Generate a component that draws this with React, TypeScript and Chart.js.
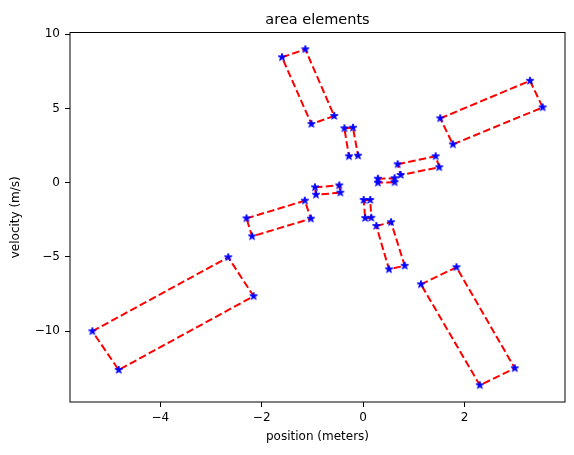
import React, { useEffect, useRef } from 'react';
import { Chart, registerables } from 'chart.js';

Chart.register(...registerables);

// Corner coordinates of each rotated rectangle (position, velocity)
const rectX: number[][] = [
  [-1.60, -1.14, -0.57, -1.02],
  [-0.37, -0.20, -0.10, -0.28],
  [1.52, 3.29, 3.54, 1.77],
  [0.68, 1.43, 1.50, 0.74],
  [0.29, 0.62, 0.62, 0.29],
  [-0.95, -0.47, -0.45, -0.93],
  [-2.30, -1.15, -1.03, -2.19],
  [-5.34, -2.66, -2.16, -4.82],
  [0.01, 0.14, 0.16, 0.04],
  [0.26, 0.55, 0.82, 0.51],
  [1.14, 1.84, 2.99, 2.30],
];
const rectY: number[][] = [
  [8.44, 8.98, 4.49, 3.95],
  [3.66, 3.70, 1.82, 1.78],
  [4.33, 6.86, 5.07, 2.58],
  [1.24, 1.78, 1.04, 0.52],
  [0.27, 0.30, 0.03, 0.00],
  [-0.31, -0.18, -0.67, -0.81],
  [-2.40, -1.21, -2.42, -3.61],
  [-10.00, -5.02, -7.64, -12.60],
  [-1.16, -1.16, -2.36, -2.38],
  [-2.91, -2.66, -5.59, -5.83],
  [-6.84, -5.69, -12.49, -13.63],
];

const xTicks = [-4, -2, 0, 2];
const yTicks = [-10, -5, 0, 5, 10];
const xLimits = [-5.78, 3.98];
const yLimits = [-14.76, 10.11];

const titleText = 'area elements';
const xLabel = 'position (meters)';
const yLabel = 'velocity (m/s)';

const FONT = "'DejaVu Sans', sans-serif";

function fmt(v: number): string {
  return v < 0 ? '\u2212' + Math.abs(v) : String(v);
}

function makeStar(): HTMLCanvasElement {
  const c = document.createElement('canvas');
  c.width = 12;
  c.height = 12;
  const g = c.getContext('2d')!;
  const cx = 6, cy = 6, R = 4.0, r = R * 0.382;
  g.beginPath();
  for (let i = 0; i < 10; i++) {
    const ang = -Math.PI / 2 + (i * Math.PI) / 5;
    const rad = i % 2 === 0 ? R : r;
    const px = cx + rad * Math.cos(ang);
    const py = cy + rad * Math.sin(ang);
    if (i === 0) g.moveTo(px, py);
    else g.lineTo(px, py);
  }
  g.closePath();
  g.fillStyle = '#0000ff';
  g.fill();
  g.strokeStyle = '#0000ff';
  g.lineWidth = 1.0;
  g.lineJoin = 'miter';
  g.stroke();
  return c;
}

const framePlugin = {
  id: 'frameTitle',
  afterDraw(chart: any) {
    const { ctx, chartArea } = chart;
    const { left, top, right, bottom } = chartArea;
    ctx.save();
    ctx.strokeStyle = '#000';
    ctx.lineWidth = 1;
    ctx.strokeRect(left, top, right - left, bottom - top);
    ctx.fillStyle = '#000';
    ctx.font = `14.5px ${FONT}`;
    ctx.textAlign = 'center';
    ctx.textBaseline = 'alphabetic';
    ctx.fillText(titleText, (left + right) / 2, 24);
    ctx.restore();
  },
};

export default function App() {
  const ref = useRef<HTMLCanvasElement | null>(null);

  useEffect(() => {
    if (!ref.current) return;
    const star = makeStar();
    const datasets = rectX.map((xs, i) => {
      const ys = rectY[i];
      const pts = xs.map((x, j) => ({ x, y: ys[j] }));
      pts.push({ x: xs[0], y: ys[0] });
      return {
        label: 'rect ' + (i + 1),
        data: pts,
        showLine: true,
        borderColor: '#ff0000',
        borderWidth: 2,
        borderDash: [7.5, 3.3],
        backgroundColor: '#0000ff',
        pointStyle: star as any,
        pointRadius: pts.map((_, j) => (j === pts.length - 1 ? 0 : 5)),
        pointHoverRadius: 5,
        fill: false,
        tension: 0,
      };
    });

    const chart = new Chart(ref.current, {
      type: 'scatter',
      data: { datasets },
      plugins: [framePlugin],
      options: {
        animation: false,
        responsive: false,
        events: [],
        layout: { padding: { top: 32.5, right: 9, bottom: 0, left: 0 } },
        plugins: {
          legend: { display: false },
          title: { display: false },
          tooltip: { enabled: false },
        },
        scales: {
          x: {
            type: 'linear',
            min: xLimits[0],
            max: xLimits[1],
            afterBuildTicks: (s: any) => {
              s.ticks = xTicks.map((v) => ({ value: v }));
            },
            afterFit: (s: any) => {
              s.height = 53;
            },
            border: { display: false },
            grid: {
              drawOnChartArea: false,
              drawTicks: true,
              tickLength: 5,
              color: '#000',
              lineWidth: 1,
            },
            ticks: {
              color: '#000',
              font: { family: FONT, size: 12 },
              padding: 4,
              maxRotation: 0,
              callback: (v: any) => fmt(Number(v)),
            },
            title: {
              display: true,
              text: xLabel,
              color: '#000',
              font: { family: FONT, size: 12 },
              padding: { top: 0, bottom: 10.5 },
            },
          },
          y: {
            type: 'linear',
            min: yLimits[0],
            max: yLimits[1],
            afterBuildTicks: (s: any) => {
              s.ticks = yTicks.map((v) => ({ value: v }));
            },
            afterFit: (s: any) => {
              s.width = 70;
            },
            border: { display: false },
            grid: {
              drawOnChartArea: false,
              drawTicks: true,
              tickLength: 5,
              color: '#000',
              lineWidth: 1,
            },
            ticks: {
              color: '#000',
              font: { family: FONT, size: 12 },
              padding: 5,
              callback: (v: any) => fmt(Number(v)),
            },
            title: {
              display: true,
              text: yLabel,
              color: '#000',
              font: { family: FONT, size: 12 },
              padding: { top: 9, bottom: 0 },
            },
          },
        },
      },
    });
    return () => chart.destroy();
  }, []);

  return (
    <div style={{ position: 'absolute', left: 0, top: 0, width: 574, height: 455, background: '#fff' }}>
      <canvas ref={ref} width={574} height={455} />
    </div>
  );
}
